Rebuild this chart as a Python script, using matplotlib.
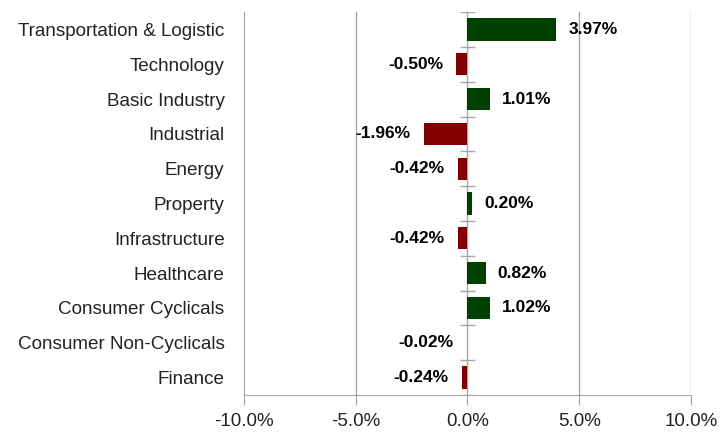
import matplotlib.pyplot as plt
import numpy as np

sectors = ['Transportation & Logistic', 'Technology', 'Basic Industry', 'Industrial',
           'Energy', 'Property', 'Infrastructure', 'Healthcare', 'Consumer Cyclicals',
           'Consumer Non-Cyclicals', 'Finance']
returns = [3.97, -0.50, 1.01, -1.96, -0.42, 0.20, -0.42, 0.82, 1.02, -0.02, -0.24]
xticks = [-10, -5, 0, 5, 10]

plt.rcParams['font.family'] = ['Liberation Sans', 'DejaVu Sans']

green = '#004000'
red = '#820000'
gray = '#a6a6a6'

fig = plt.figure(figsize=(7.22, 4.33), dpi=100)
ax = fig.add_axes([0.338, 0.088, 0.619, 0.884])

y = np.arange(len(sectors))
colors = [green if v >= 0 else red for v in returns]
ax.barh(y, returns, height=0.64, color=colors, zorder=3)

ax.set_xlim(-10, 10)
ax.set_ylim(len(sectors) - 0.5, -0.5)
ax.set_xticks(xticks)
ax.set_xticklabels([f'{t:.1f}%' for t in xticks], fontsize=13.5, color='#222222')
ax.set_yticks(y)
ax.set_yticklabels(sectors, fontsize=13.6, color='#222222')
ax.tick_params(axis='y', length=0, pad=14)
ax.tick_params(axis='x', length=7, color=gray, direction='out', pad=6)

for s in ['top', 'right']:
    ax.spines[s].set_visible(False)
for s in ['left', 'bottom']:
    ax.spines[s].set_color(gray)

for t in xticks[1:]:
    ax.axvline(t, color=gray, lw=1, zorder=1)

# category axis at zero with boundary ticks
bounds = np.arange(-0.5, len(sectors), 1.0)
ax.hlines(bounds, -0.35, 0.35, color=gray, lw=1, zorder=2)

for yi, v in zip(y, returns):
    if v >= 0:
        ax.annotate(f'{v:.2f}%', (v, yi), xytext=(8.6, 0), textcoords='offset points',
                    ha='left', va='center', fontsize=12.5, fontweight='bold')
    else:
        ax.annotate(f'{v:.2f}%', (v, yi), xytext=(-9.5, 0), textcoords='offset points',
                    ha='right', va='center', fontsize=12.5, fontweight='bold')

fig.savefig('out.png', dpi=100)
